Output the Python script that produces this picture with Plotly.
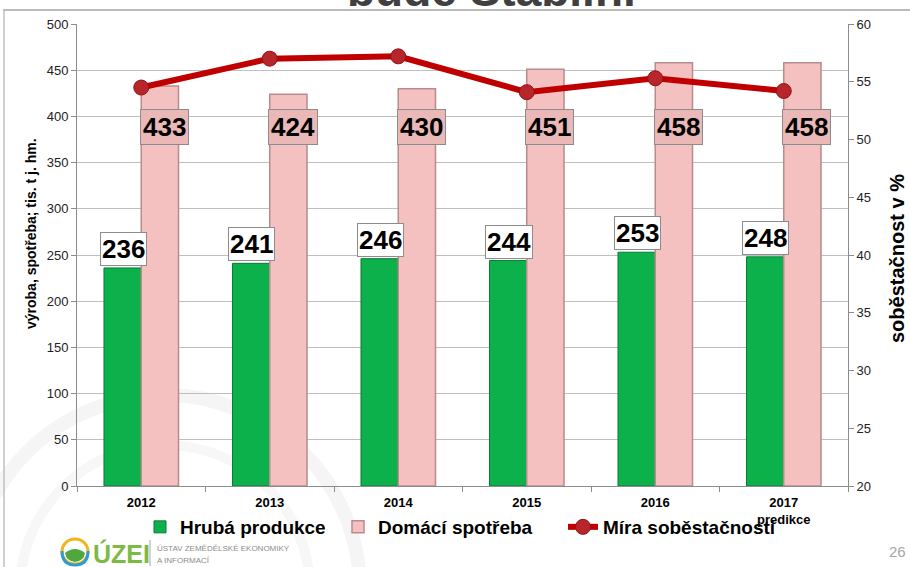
import plotly.graph_objects as go

# ---- data ----
years = ["2012", "2013", "2014", "2015", "2016", "2017"]
tick_labels = ["2012", "2013", "2014", "2015", "2016", "2017<br>predikce"]
hruba_produkce = [236, 241, 246, 244, 253, 248]
domaci_spotreba = [433, 424, 430, 451, 458, 458]
mira_sobestacnosti = [54.5, 57.0, 57.2, 54.1, 55.3, 54.2]

# ---- layout geometry ----
W, H = 910, 567
L, R, T, B = 77, 62, 24, 81
PW, PH = W - L - R, H - T - B


def px(x):
    return (x - L) / PW


def py(y):
    return (H - B - y) / PH


FONT = "Arial, Liberation Sans, sans-serif"
GREEN = "#0DB14B"
PINK = "#F4C0C0"
PINK_EDGE = "#B98C8C"
RED = "#C00000"

fig = go.Figure()
fig.add_trace(go.Bar(
    x=years, y=hruba_produkce, name="Hrubá produkce",
    marker=dict(color=GREEN, line=dict(color="#0A7A35", width=1)),
    yaxis="y", legendwidth=153,
))
fig.add_trace(go.Bar(
    x=years, y=domaci_spotreba, name="Domácí spotřeba",
    marker=dict(color=PINK, line=dict(color=PINK_EDGE, width=1.5)),
    yaxis="y", legendwidth=180,
))
fig.add_trace(go.Scatter(
    x=years, y=mira_sobestacnosti, name="Míra soběstačnosti",
    mode="lines+markers",
    line=dict(color=RED, width=6),
    marker=dict(size=15, color="#B8262B", line=dict(color="#8E1418", width=1)),
    yaxis="y2",
))

annotations = []
# green labels: white boxes just above the bars (x given as category index)
for i, v in enumerate(hruba_produkce):
    annotations.append(dict(
        x=i, y=v, xref="x", yref="y", text=f"<b>{v}</b>", showarrow=False,
        xshift=-18, yshift=2, yanchor="bottom", xanchor="center",
        font=dict(family=FONT, size=26, color="black"),
        bgcolor="white", bordercolor="#8C8C8C", borderwidth=1, borderpad=1,
    ))
# pink labels: pink boxes near the top of the bars
PINK_LABEL_Y = 388
for i, v in enumerate(domaci_spotreba):
    annotations.append(dict(
        x=i, y=PINK_LABEL_Y, xref="x", yref="y", text=f"<b>{v}</b>", showarrow=False,
        xshift=23, yanchor="middle", xanchor="center",
        font=dict(family=FONT, size=26, color="black"),
        bgcolor="#EBB8B8", bordercolor="#8C8C8C", borderwidth=1, borderpad=2,
    ))

# axis titles
annotations.append(dict(
    x=px(31), y=py(234), xref="paper", yref="paper", textangle=-90,
    xanchor="center", yanchor="middle",
    text="<b>výroba, spotřeba; tis. t j. hm.</b>", showarrow=False,
    font=dict(family=FONT, size=14, color="black"),
))
annotations.append(dict(
    x=px(897), y=py(259), xref="paper", yref="paper", textangle=-90,
    xanchor="center", yanchor="middle",
    text="<b>soběstačnost v %</b>", showarrow=False,
    font=dict(family=FONT, size=20, color="black"),
))
# cut-off slide title at top
annotations.append(dict(
    x=px(492), y=py(18), xref="paper", yref="paper", yanchor="bottom", xanchor="center",
    text="<b>bude Stabilní</b>", showarrow=False,
    font=dict(family=FONT, size=46, color="#404040"),
))
# logo texts
annotations.append(dict(
    x=px(91), y=py(553), xref="paper", yref="paper", xanchor="left", yanchor="middle",
    text="<b>ÚZEI</b>", showarrow=False,
    font=dict(family=FONT, size=25, color="#7DBA45"),
))
annotations.append(dict(
    x=px(155), y=py(548), xref="paper", yref="paper", xanchor="left", yanchor="middle",
    text="ÚSTAV ZEMĚDĚLSKÉ EKONOMIKY", showarrow=False,
    font=dict(family=FONT, size=8, color="#8C8C8C"),
))
annotations.append(dict(
    x=px(155), y=py(560), xref="paper", yref="paper", xanchor="left", yanchor="middle",
    text="A INFORMACÍ", showarrow=False,
    font=dict(family=FONT, size=8, color="#8C8C8C"),
))
annotations.append(dict(
    x=px(897), y=py(551), xref="paper", yref="paper", xanchor="center", yanchor="middle",
    text="26", showarrow=False,
    font=dict(family=FONT, size=15, color="#A6A6A6"),
))

shapes = [
    # faint watermark rings (bottom left)
    dict(type="circle", xref="paper", yref="paper", layer="below",
         x0=px(-30), x1=px(360), y0=py(395), y1=py(785),
         line=dict(color="#F5F5F5", width=14)),
    dict(type="circle", xref="paper", yref="paper", layer="below",
         x0=px(20), x1=px(310), y0=py(445), y1=py(735),
         line=dict(color="#F7F7F7", width=10)),
    # slide frame
    dict(type="line", xref="paper", yref="paper", x0=px(3), x1=px(910), y0=py(10), y1=py(10),
         line=dict(color="#A6A6A6", width=1.5)),
    dict(type="line", xref="paper", yref="paper", x0=px(4), x1=px(4), y0=py(10), y1=py(567),
         line=dict(color="#BFBFBF", width=1.5)),
    # logo separator
    dict(type="line", xref="paper", yref="paper", x0=px(150), x1=px(150), y0=py(540), y1=py(566),
         line=dict(color="#A6A6A6", width=1)),
    # logo icon
    dict(type="circle", xref="paper", yref="paper", x0=px(62), x1=px(88), y0=py(539), y1=py(564),
         fillcolor="white", line=dict(color="#F2B51C", width=3)),
    dict(type="path", xref="paper", yref="paper",
         path=f"M {px(62)} {py(551)} Q {px(62)} {py(565)} {px(75)} {py(565)} Q {px(88)} {py(565)} {px(88)} {py(551)}",
         line=dict(color="#2E9BD6", width=3)),
    dict(type="path", xref="paper", yref="paper",
         path=f"M {px(65)} {py(553)} Q {px(75)} {py(545)} {px(85)} {py(553)} Q {px(84)} {py(561)} {px(75)} {py(562)} Q {px(66)} {py(561)} {px(65)} {py(553)} Z",
         fillcolor="#4FA83D", line=dict(color="#4FA83D", width=0)),
]

fig.update_layout(
    width=W, height=H,
    margin=dict(l=L, r=R, t=T, b=B, autoexpand=False),
    paper_bgcolor="white", plot_bgcolor="rgba(0,0,0,0)",
    barmode="group", bargap=0.42, bargroupgap=0,
    font=dict(family=FONT, size=13, color="#222"),
    showlegend=True,
    legend=dict(
        orientation="h", x=px(140), y=py(527), xanchor="left", yanchor="middle",
        font=dict(family=FONT, size=19, color="black", weight="bold"),
        bgcolor="rgba(0,0,0,0)", itemwidth=30,
    ),
    xaxis=dict(
        type="category", range=[-0.5, len(years) - 0.5],
        categoryorder="array", categoryarray=years,
        tickmode="array", tickvals=years, ticktext=tick_labels,
        tickfont=dict(family=FONT, size=13, color="black", weight="bold"),
        ticklabelstandoff=4,
        showline=True, linecolor="#8C8C8C", linewidth=1,
        ticks="outside", tickson="boundaries", ticklen=5, tickcolor="#8C8C8C",
        showgrid=False, automargin=False,
    ),
    yaxis=dict(
        range=[0, 500], dtick=50, tick0=0,
        showline=True, linecolor="#8C8C8C", linewidth=1,
        ticks="outside", ticklen=5, tickcolor="#8C8C8C",
        showgrid=True, gridcolor="#BFBFBF", gridwidth=1, zeroline=False,
        tickfont=dict(family=FONT, size=13, color="#222"), automargin=False,
    ),
    yaxis2=dict(
        range=[20, 60], dtick=5, tick0=20, overlaying="y", side="right",
        showline=True, linecolor="#8C8C8C", linewidth=1,
        ticks="outside", ticklen=5, tickcolor="#8C8C8C",
        showgrid=False, zeroline=False,
        tickfont=dict(family=FONT, size=13, color="#222"), automargin=False,
    ),
    annotations=annotations,
    shapes=shapes,
)

fig.write_html("out.html", config={"displayModeBar": False},
               post_script="document.body.style.margin='0';")
